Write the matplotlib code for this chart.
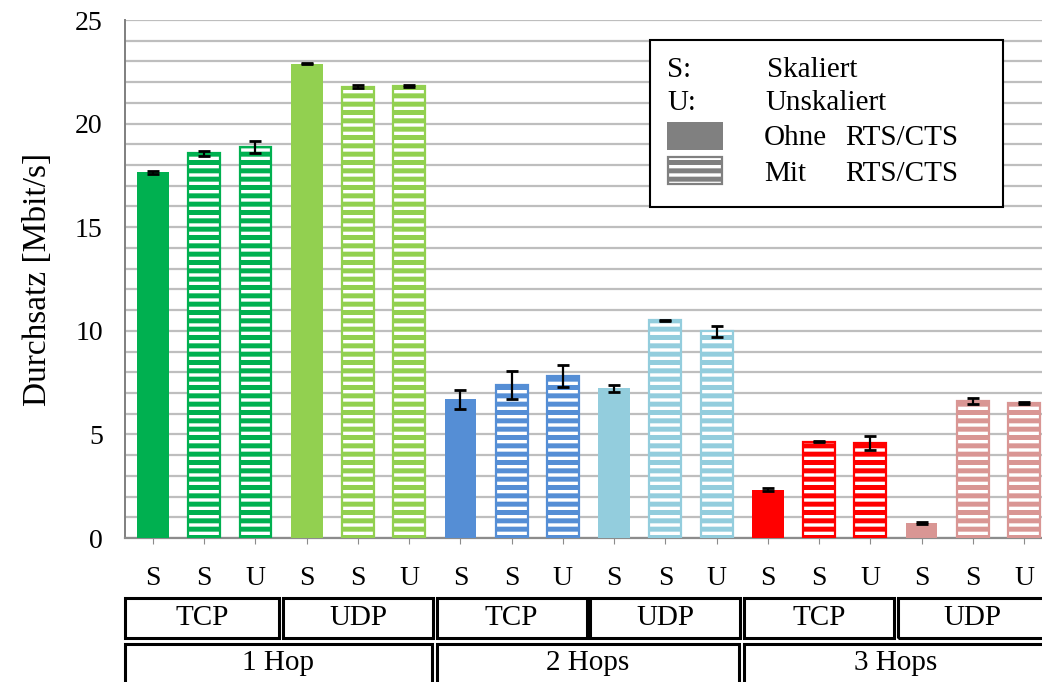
import matplotlib
matplotlib.use("Agg")
import matplotlib.pyplot as plt
from matplotlib.patches import Rectangle
from matplotlib.ticker import MultipleLocator
import numpy as np

# ---- data ----
tick_labels = ["S", "S", "U", "S", "S", "U", "S", "S", "U",
               "S", "S", "U", "S", "S", "U", "S", "S", "U"]
values = [17.65, 18.57, 18.87, 22.9, 21.78, 21.8,
          6.7, 7.38, 7.82, 7.22, 10.5, 9.97,
          2.34, 4.65, 4.6, 0.72, 6.62, 6.52]
errors = [0.07, 0.12, 0.27, 0.03, 0.08, 0.04,
          0.46, 0.68, 0.52, 0.18, 0.04, 0.26,
          0.06, 0.03, 0.33, 0.06, 0.13, 0.03]
rts_cts = [False, True, True, False, True, True,
           False, True, True, False, True, True,
           False, True, True, False, True, True]
protocols = ["TCP", "UDP", "TCP", "UDP", "TCP", "UDP"]
hops = ["1 Hop", "2 Hops", "3 Hops"]
group_colors = ["#00B050", "#92D050", "#558ED5", "#93CDDD", "#FF0000", "#D99694"]

plt.rcParams["font.family"] = ["Liberation Serif", "DejaVu Serif"]
plt.rcParams["hatch.linewidth"] = 3.6

W, H = 1042, 682
fig = plt.figure(figsize=(W / 100, H / 100), dpi=100)
ax = fig.add_axes([125 / W, (H - 538) / H, (W - 125) / W, (538 - 20) / H])

x = np.arange(len(values))
colors = [group_colors[i // 3] for i in range(len(values))]
for xi, v, c, m in zip(x, values, colors, rts_cts):
    if m:
        ax.bar(xi, v, width=0.62, facecolor="white", edgecolor=c,
               linewidth=1.6, hatch="--", zorder=3)
    else:
        ax.bar(xi, v, width=0.62, color=c, linewidth=0, zorder=3)
ax.errorbar(x, values, yerr=errors, fmt="none", ecolor="black",
            elinewidth=1.6, capsize=4.3, capthick=2, zorder=4)

ax.set_xlim(-0.546, 17.35)
ax.set_ylim(0, 25)
ax.yaxis.set_major_locator(MultipleLocator(5))
ax.yaxis.set_minor_locator(MultipleLocator(1))
ax.grid(True, axis="y", which="both", color="#BEBEBE", linewidth=1.6, zorder=0)
ax.set_axisbelow(True)
for s in ["top", "right"]:
    ax.spines[s].set_visible(False)
ax.spines["left"].set_color("#7F7F7F")
ax.spines["bottom"].set_color("#8C8C8C")
ax.spines["left"].set_linewidth(1.4)
ax.spines["bottom"].set_linewidth(1.6)
ax.tick_params(axis="y", which="both", length=0, labelsize=20, pad=16)
ax.tick_params(axis="x", length=4.5, color="#8C8C8C", labelsize=20, pad=16)
ax.set_xticks(x)
ax.set_xticklabels(tick_labels)
ax.set_ylabel("Durchsatz [Mbit/s]", fontsize=24, labelpad=16)

# ---- category boxes below the axis ----
trans = matplotlib.transforms.blended_transform_factory(ax.transData, fig.transFigure)
def box(x0, x1, y0px, y1px, label):
    r = Rectangle((x0, (H - y1px) / H), x1 - x0, (y1px - y0px) / H,
                  transform=trans, fill=False, edgecolor="black",
                  linewidth=2.2, clip_on=False)
    fig.add_artist(r)
    fig.text((x0 + x1) / 2, (H - (y0px + y1px) / 2) / H, label,
             transform=trans, ha="center", va="center", fontsize=21)

gap = 0.035
for k, p in enumerate(protocols):
    x0 = -0.546 if k == 0 else 3 * k - 0.5 + gap
    x1 = 3 * k + 2.5 - gap
    box(x0, x1, 598, 638, p)
for k, hname in enumerate(hops):
    x0 = -0.546 if k == 0 else 6 * k - 0.5 + 0.04
    x1 = 6 * k + 5.5 - 0.06
    box(x0, x1, 644, 700, "")
    fig.text((x0 + x1) / 2, (H - 663) / H, hname, transform=trans,
             ha="center", va="center", fontsize=21)

# ---- legend ----
def fx(px):
    return px / W
def fy(py):
    return (H - py) / H
fig.add_artist(Rectangle((fx(650), fy(207)), fx(1003) - fx(650), fy(40) - fy(207),
                         transform=fig.transFigure, facecolor="white",
                         edgecolor="black", linewidth=1.5, zorder=5))
fs = 21
fig.text(fx(667), fy(70), "S:", fontsize=fs, va="center", zorder=6)
fig.text(fx(767), fy(70), "Skaliert", fontsize=fs, va="center", zorder=6)
fig.text(fx(667), fy(103), "U:", fontsize=fs, va="center", zorder=6)
fig.text(fx(765), fy(103), "Unskaliert", fontsize=fs, va="center", zorder=6)
fig.add_artist(Rectangle((fx(667), fy(150)), fx(723) - fx(667), fy(122) - fy(150),
                         transform=fig.transFigure, facecolor="#808080",
                         edgecolor="none", zorder=6))
fig.add_artist(Rectangle((fx(668), fy(184)), fx(722) - fx(668), fy(157) - fy(184),
                         transform=fig.transFigure, facecolor="white",
                         edgecolor="#808080", linewidth=1.6, hatch="--", zorder=6))
fig.text(fx(764), fy(138), "Ohne", fontsize=fs, va="center", zorder=6)
fig.text(fx(845), fy(138), "RTS/CTS", fontsize=fs, va="center", zorder=6)
fig.text(fx(764), fy(174), "Mit", fontsize=fs, va="center", zorder=6)
fig.text(fx(845), fy(174), "RTS/CTS", fontsize=fs, va="center", zorder=6)

fig.savefig("out.png", dpi=100)
